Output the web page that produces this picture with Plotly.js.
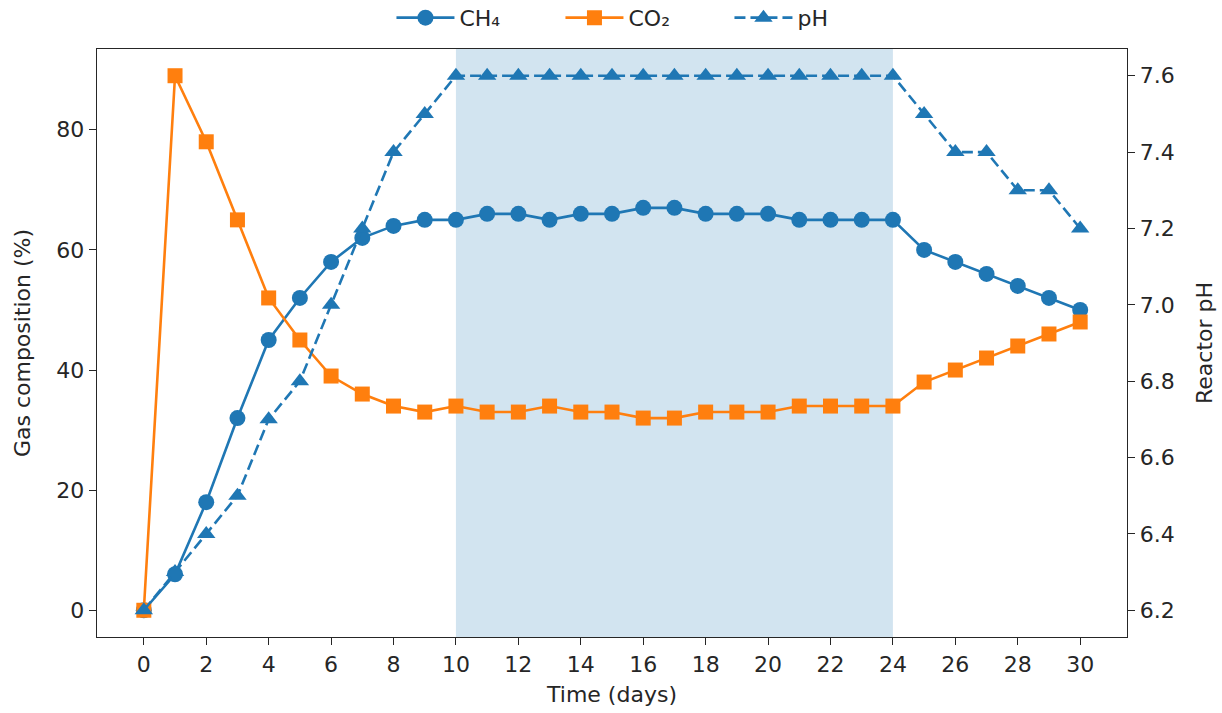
<!DOCTYPE html>
<html>
<head>
<meta charset="utf-8">
<script src="https://cdn.plot.ly/plotly-3.0.1.min.js"></script>
<style>html,body{margin:0;padding:0;background:#fff;}#chart{width:1222px;height:713px;}</style>
</head>
<body>
<div id="chart"></div>
<script>
var days = [0,1,2,3,4,5,6,7,8,9,10,11,12,13,14,15,16,17,18,19,20,21,22,23,24,25,26,27,28,29,30];
var ch4 = [0,6,18,32,45,52,58,62,64,65,65,66,66,65,66,66,67,67,66,66,66,65,65,65,65,60,58,56,54,52,50];
var co2 = [0,89,78,65,52,45,39,36,34,33,34,33,33,34,33,33,32,32,33,33,33,34,34,34,34,38,40,42,44,46,48];
var ph = [6.2,6.3,6.4,6.5,6.7,6.8,7.0,7.2,7.4,7.5,7.6,7.6,7.6,7.6,7.6,7.6,7.6,7.6,7.6,7.6,7.6,7.6,7.6,7.6,7.6,7.5,7.4,7.4,7.3,7.3,7.2];
var shadeStart = 10, shadeEnd = 24;
var xTicks = [0,2,4,6,8,10,12,14,16,18,20,22,24,26,28,30];
var yTicks = [0,20,40,60,80];
var y2Ticks = [6.2,6.4,6.6,6.8,7.0,7.2,7.4,7.6];

var blue = '#1f77b4', orange = '#ff7f0e';
var font = {family: 'DejaVu Sans, sans-serif', size: 22, color: '#262626'};

var traces = [
  {x: days, y: ch4, name: 'CH₄', type: 'scatter', mode: 'lines+markers',
   line: {color: blue, width: 2.6}, marker: {symbol: 'circle', size: 16, color: blue}, yaxis: 'y'},
  {x: days, y: co2, name: 'CO₂', type: 'scatter', mode: 'lines+markers',
   line: {color: orange, width: 2.6}, marker: {symbol: 'square', size: 15, color: orange}, yaxis: 'y'},
  {x: days, y: ph, name: 'pH', type: 'scatter', mode: 'lines+markers',
   line: {color: blue, width: 2.6, dash: '11px,5px'}, marker: {symbol: 'triangle-up', size: 16, color: blue}, yaxis: 'y2'}
];

var layout = {
  width: 1222, height: 713,
  margin: {l: 97, r: 95, t: 49, b: 76, autoexpand: false},
  paper_bgcolor: '#fff', plot_bgcolor: '#fff',
  font: font,
  showlegend: true,
  legend: {orientation: 'h', x: 0.532, xanchor: 'center', y: 1.053, yanchor: 'middle',
           font: font, entrywidth: 96, entrywidthmode: 'pixels', itemwidth: 58, bgcolor: 'rgba(0,0,0,0)'},
  xaxis: {range: [-1.5, 31.5], tickmode: 'array', tickvals: xTicks, ticks: 'outside', ticklen: 7,
          tickcolor: '#262626', showline: true, linecolor: '#262626', linewidth: 1.3, mirror: true,
          showgrid: false, zeroline: false, automargin: false,
          title: {text: 'Time (days)', font: font, standoff: 11}},
  yaxis: {range: [-4.45, 93.45], tickmode: 'array', tickvals: yTicks, ticks: 'outside', ticklen: 7,
          tickcolor: '#262626', showline: true, linecolor: '#262626', linewidth: 1.3, automargin: false,
          showgrid: false, zeroline: false, title: {text: 'Gas composition (%)', font: font, standoff: 19}},
  yaxis2: {range: [6.13, 7.67], overlaying: 'y', side: 'right', tickmode: 'array', tickvals: y2Ticks,
           tickformat: '.1f', ticks: 'outside', ticklen: 7, tickcolor: '#262626', showline: true,
           linecolor: '#262626', linewidth: 1.3, showgrid: false, zeroline: false, automargin: false,
           title: {text: 'Reactor pH', font: font, standoff: 23}},
  shapes: [{type: 'rect', xref: 'x', yref: 'paper', x0: shadeStart, x1: shadeEnd, y0: 0, y1: 1,
            fillcolor: 'rgba(31,119,180,0.2)', line: {width: 0}, layer: 'below'}]
};

Plotly.newPlot('chart', traces, layout, {displayModeBar: false, staticPlot: true});
</script>
</body>
</html>
